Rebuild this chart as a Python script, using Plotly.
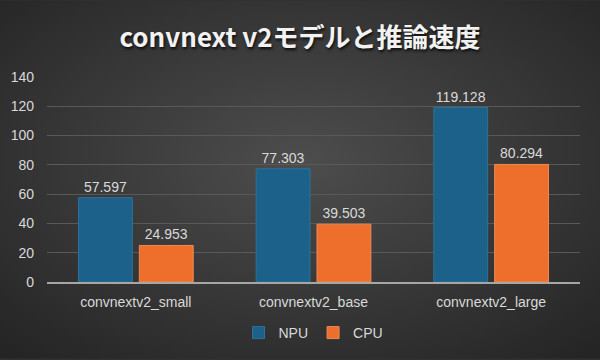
import base64
import plotly.graph_objects as go

categories = ["convnextv2_small", "convnextv2_base", "convnextv2_large"]
npu = [57.597, 77.303, 119.128]
cpu = [24.953, 39.503, 80.294]
series_names = ["NPU", "CPU"]
title_text = "convnext v2モデルと推論速度"

W, H = 600, 360
ml, mr, mt, mb = 47, 20, 77, 77

svg = f'''<svg xmlns="http://www.w3.org/2000/svg" width="{W}" height="{H}" viewBox="0 0 {W} {H}" preserveAspectRatio="none">
<defs><radialGradient id="g" cx="50%" cy="45%" r="75%">
<stop offset="0%" stop-color="#4d4d4d"/><stop offset="100%" stop-color="#232323"/></radialGradient></defs>
<rect width="{W}" height="{H}" fill="url(#g)"/></svg>'''
src = "data:image/svg+xml;base64," + base64.b64encode(svg.encode()).decode()

pw, ph = W - ml - mr, H - mt - mb
font = "Liberation Sans, Arial, sans-serif"
lab = "#d9d9d9"

fig = go.Figure()
fig.add_bar(name=series_names[0], x=categories, y=npu, text=[f"{v:.3f}" for v in npu],
            textposition="outside", cliponaxis=False,
            marker=dict(color="#1b6189", line=dict(color="#2e7298", width=1)),
            textfont=dict(color=lab, size=14, family=font))
fig.add_bar(name=series_names[1], x=categories, y=cpu, text=[f"{v:.3f}" for v in cpu],
            textposition="outside", cliponaxis=False,
            marker=dict(color="#ee6e2c", line=dict(color="#f08a55", width=1)),
            textfont=dict(color=lab, size=14, family=font))

fig.update_layout(
    width=W, height=H,
    margin=dict(l=ml, r=mr, t=mt, b=mb),
    paper_bgcolor="#303030", plot_bgcolor="rgba(0,0,0,0)",
    images=[dict(source=src, xref="paper", yref="paper",
                 x=-ml / pw, y=1 + mt / ph, sizex=W / pw, sizey=H / ph,
                 xanchor="left", yanchor="top", sizing="stretch", layer="below")],
    title=dict(text=f"<b>{title_text}</b>", x=0.5, xanchor="center", y=1 - 38 / H, yanchor="middle",
               font=dict(size=26, color="#f2f2f2", family="Noto Sans CJK JP, sans-serif",
                         shadow="1px 2px 3px rgba(0,0,0,0.8)")),
    bargap=0.315, bargroupgap=0.115,
    showlegend=True,
    legend=dict(orientation="h", x=0.5, xanchor="center", y=-(333 - 283) / ph, yanchor="middle",
                font=dict(color=lab, size=14, family=font), bgcolor="rgba(0,0,0,0)",
                itemwidth=30, traceorder="normal"),
)
fig.update_yaxes(range=[0, 140], dtick=20, showgrid=True, gridcolor="#595959", gridwidth=1,
                 zeroline=False, showline=False, ticks="", ticklabelstandoff=12,
                 tickfont=dict(color=lab, size=14, family=font), automargin=False)
fig.update_xaxes(showline=True, linecolor="#a6a6a6", linewidth=1.5, ticks="",
                 tickfont=dict(color=lab, size=14, family=font), ticklabelstandoff=6, automargin=False)

fig.write_html("out.html", config={"displayModeBar": False},
               post_script="document.body.style.margin='0';")
